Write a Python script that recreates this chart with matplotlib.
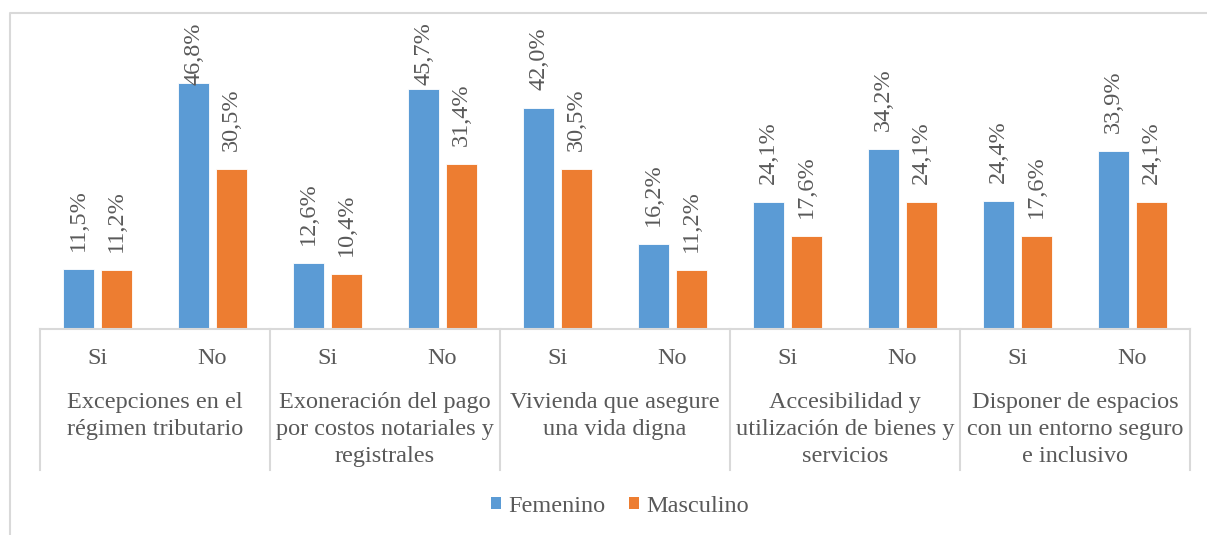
import matplotlib
matplotlib.use("Agg")
import matplotlib.pyplot as plt
from matplotlib.patches import Patch
from matplotlib.lines import Line2D

plt.rcParams['font.family'] = ['Liberation Serif', 'DejaVu Serif']

groups = ["Excepciones en el\nrégimen tributario",
          "Exoneración del pago\npor costos notariales y\nregistrales",
          "Vivienda que asegure\nuna vida digna",
          "Accesibilidad y\nutilización de bienes y\nservicios",
          "Disponer de espacios\ncon un entorno seguro\ne inclusivo"]
subcats = ["Si", "No"]
femenino = [11.5, 46.8, 12.6, 45.7, 42.0, 16.2, 24.1, 34.2, 24.4, 33.9]
masculino = [11.2, 30.5, 10.4, 31.4, 30.5, 11.2, 17.6, 24.1, 17.6, 24.1]
series_names = ["Femenino", "Masculino"]
colors = ["#5B9BD5", "#ED7D31"]
text_color = "#595959"
line_color = "#D9D9D9"

W, H = 1207, 535
fig = plt.figure(figsize=(W / 100, H / 100), dpi=100)

ax_left, ax_right = 40, 1190
ax_bottom = 329
ymax = 60
ppu = 5.26  # pixels per percent
ax_top = ax_bottom - ymax * ppu
ax = fig.add_axes([ax_left / W, 1 - ax_bottom / H, (ax_right - ax_left) / W, (ax_bottom - ax_top) / H])
ax.set_xlim(-0.5, 9.5)
ax.set_ylim(0, ymax)
ax.axis('off')

n = len(femenino)
xs = list(range(n))
bw = 0.27
off = 0.165
fs = 17.5

for vals, col, sgn in [(femenino, colors[0], -1), (masculino, colors[1], 1)]:
    ax.bar([x + sgn * off for x in xs], vals, width=bw, color=col, edgecolor='white', linewidth=0.6, zorder=2)
    for x, v in zip(xs, vals):
        lab = f"{v:.1f}%".replace('.', ',')
        y_bottom = v + 18 / ppu
        y_top = y_bottom + 61 / ppu
        y_cap = (ax_bottom - 22) / ppu
        if y_top > y_cap:
            ax.text(x + sgn * off, y_cap, lab, rotation=90, ha='center', va='top', fontsize=fs, color=text_color, clip_on=False)
        else:
            ax.text(x + sgn * off, y_bottom, lab, rotation=90, ha='center', va='bottom', fontsize=fs, color=text_color, clip_on=False)

def fx(px):
    return px / W

def fy(py):
    return 1 - py / H

# category axis lines
fig.add_artist(Line2D([fx(ax_left), fx(ax_right)], [fy(ax_bottom), fy(ax_bottom)], color=line_color, lw=1.5))
gw = (ax_right - ax_left) / len(groups)
for i in range(len(groups) + 1):
    xp = ax_left + i * gw
    fig.add_artist(Line2D([fx(xp), fx(xp)], [fy(ax_bottom), fy(470)], color=line_color, lw=1.5))

sw = gw / 2
for i in range(n):
    xc = ax_left + sw * (i + 0.5)
    fig.text(fx(xc), fy(358), subcats[i % 2], ha='center', va='center', fontsize=fs, color=text_color)

for g, lab in enumerate(groups):
    xc = ax_left + gw * (g + 0.5)
    fig.text(fx(xc), fy(392), lab, ha='center', va='top', fontsize=fs, color=text_color, linespacing=1.38)

# outer border
fig.add_artist(Line2D([fx(10), fx(10), fx(W)], [fy(H), fy(13), fy(13)], color=line_color, lw=1.5))

handles = [Patch(facecolor=c, edgecolor='none') for c in colors]
fig.legend(handles, series_names, loc='center', bbox_to_anchor=(fx(620), fy(506)), ncol=2, frameon=False,
           fontsize=fs, labelcolor=text_color, handlelength=0.42, handleheight=0.42, handletextpad=0.3,
           columnspacing=0.95, borderpad=0)

fig.savefig("out.png", dpi=100)
